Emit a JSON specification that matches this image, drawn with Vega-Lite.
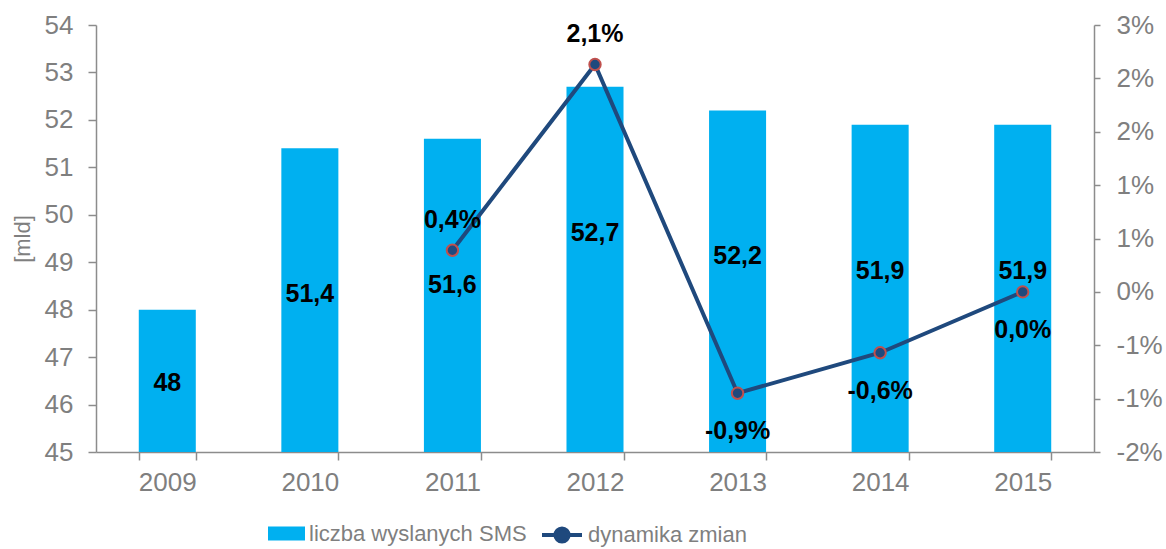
{
  "$schema": "https://vega.github.io/schema/vega-lite/v6.json",
  "width": 998,
  "height": 427,
  "autosize": "none",
  "padding": {"left": 96, "top": 25, "right": 72, "bottom": 97},
  "config": {
    "locale": {"number": {"decimal": ",", "thousands": " ", "grouping": [3], "currency": ["", " zł"], "minus": "-"}},
    "view": {"stroke": null},
    "font": "Liberation Sans",
    "axis": {
      "grid": false,
      "domainColor": "#8c8c8c",
      "tickColor": "#8c8c8c",
      "labelColor": "#7f7f7f",
      "labelFont": "Liberation Sans",
      "labelFontSize": 26,
      "titleColor": "#7f7f7f",
      "titleFont": "Liberation Sans",
      "titleFontWeight": "normal",
      "domainWidth": 1.5,
      "tickWidth": 1.5,
      "tickSize": 8
    },
    "legend": {
      "labelFont": "Liberation Sans",
      "labelFontSize": 22,
      "labelColor": "#7f7f7f",
      "labelLimit": 0,
      "padding": 0
    }
  },
  "data": {
    "values": [
      {"year": "2009", "sms": 48.0, "dyn": null},
      {"year": "2010", "sms": 51.4, "dyn": null},
      {"year": "2011", "sms": 51.6, "dyn": 0.0039},
      {"year": "2012", "sms": 52.7, "dyn": 0.0213},
      {"year": "2013", "sms": 52.2, "dyn": -0.00949},
      {"year": "2014", "sms": 51.9, "dyn": -0.0057},
      {"year": "2015", "sms": 51.9, "dyn": 0.0}
    ]
  },
  "encoding": {
    "x": {
      "field": "year",
      "type": "ordinal",
      "scale": {"type": "band", "paddingInner": 0.6, "paddingOuter": 0.3},
      "axis": {"title": null, "labelAngle": 0, "tickBand": "extent", "labelPadding": 9}
    }
  },
  "layer": [
    {
      "layer": [
        {
          "mark": {"type": "bar", "color": "#00B0F0"},
          "encoding": {
            "y": {
              "field": "sms",
              "type": "quantitative",
              "scale": {"domain": [45, 54], "zero": false, "nice": false},
              "axis": {
                "orient": "left",
                "title": "[mld]",
                "titleFontSize": 22,
                "titlePadding": 10,
                "values": [45, 46, 47, 48, 49, 50, 51, 52, 53, 54],
                "labelPadding": 15
              }
            },
            "y2": {"datum": 45},
            "fill": {
              "datum": "liczba wyslanych SMS",
              "type": "nominal",
              "scale": {"range": ["#00B0F0"]},
              "legend": {
                "title": null,
                "orient": "none",
                "legendX": 172,
                "legendY": 490,
                "symbolType": "M-1,-0.38H1V0.38H-1Z",
                "symbolSize": 1369,
                "symbolStrokeWidth": 0,
                "labelOffset": 4
              }
            }
          }
        },
        {
          "transform": [{"filter": "datum.sms >= 50"}],
          "mark": {"type": "text", "dy": 146, "fontSize": 25, "fontWeight": "bold", "color": "#000000", "baseline": "middle"},
          "encoding": {
            "y": {"field": "sms", "type": "quantitative"},
            "text": {"field": "sms", "type": "quantitative", "format": ".1~f"}
          }
        },
        {
          "transform": [{"filter": "datum.sms < 50"}],
          "mark": {"type": "text", "dy": 73, "fontSize": 25, "fontWeight": "bold", "color": "#000000", "baseline": "middle"},
          "encoding": {
            "y": {"field": "sms", "type": "quantitative"},
            "text": {"field": "sms", "type": "quantitative", "format": ".1~f"}
          }
        }
      ]
    },
    {
      "transform": [{"filter": "isValid(datum.dyn)"}],
      "layer": [
        {
          "mark": {"type": "line", "strokeWidth": 4},
          "encoding": {
            "y": {
              "field": "dyn",
              "type": "quantitative",
              "scale": {"domain": [-0.015, 0.025], "zero": false, "nice": false},
              "axis": {
                "orient": "right",
                "title": null,
                "tickSize": 6,
                "labelPadding": 16,
                "values": [-0.015, -0.01, -0.005, 0, 0.005, 0.01, 0.015, 0.02, 0.025],
                "labelExpr": "(datum.value < 0 ? '-' : '') + round(abs(datum.value) * 100 + 0.001) + '%'"
              }
            },
            "stroke": {
              "datum": "dynamika zmian",
              "type": "nominal",
              "scale": {"range": ["#1F497D"]},
              "legend": {
                "title": null,
                "orient": "none",
                "legendX": 444,
                "legendY": 488,
                "symbolType": "M-1,0L-0.33,0M0.33,0L1,0M-0.33,0A0.33,0.33 0 1,1 0.33,0A0.33,0.33 0 1,1 -0.33,0Z",
                "symbolSize": 1600,
                "symbolStrokeWidth": 4,
                "symbolFillColor": "#1F497D",
                "labelOffset": 4
              }
            }
          }
        },
        {
          "mark": {"type": "point", "filled": true, "size": 130, "fill": "#1F497D", "stroke": "#C0504D", "strokeWidth": 2, "opacity": 1},
          "encoding": {
            "y": {"field": "dyn", "type": "quantitative"}
          }
        },
        {
          "transform": [{"filter": "datum.dyn > 0"}],
          "mark": {"type": "text", "dy": -30, "fontSize": 25, "fontWeight": "bold", "color": "#000000", "baseline": "middle"},
          "encoding": {
            "y": {"field": "dyn", "type": "quantitative"},
            "text": {"field": "dyn", "type": "quantitative", "format": ".1%"}
          }
        },
        {
          "transform": [{"filter": "datum.dyn <= 0"}],
          "mark": {"type": "text", "dy": 38, "fontSize": 25, "fontWeight": "bold", "color": "#000000", "baseline": "middle"},
          "encoding": {
            "y": {"field": "dyn", "type": "quantitative"},
            "text": {"field": "dyn", "type": "quantitative", "format": ".1%"}
          }
        }
      ]
    }
  ],
  "resolve": {"scale": {"y": "independent"}}
}
